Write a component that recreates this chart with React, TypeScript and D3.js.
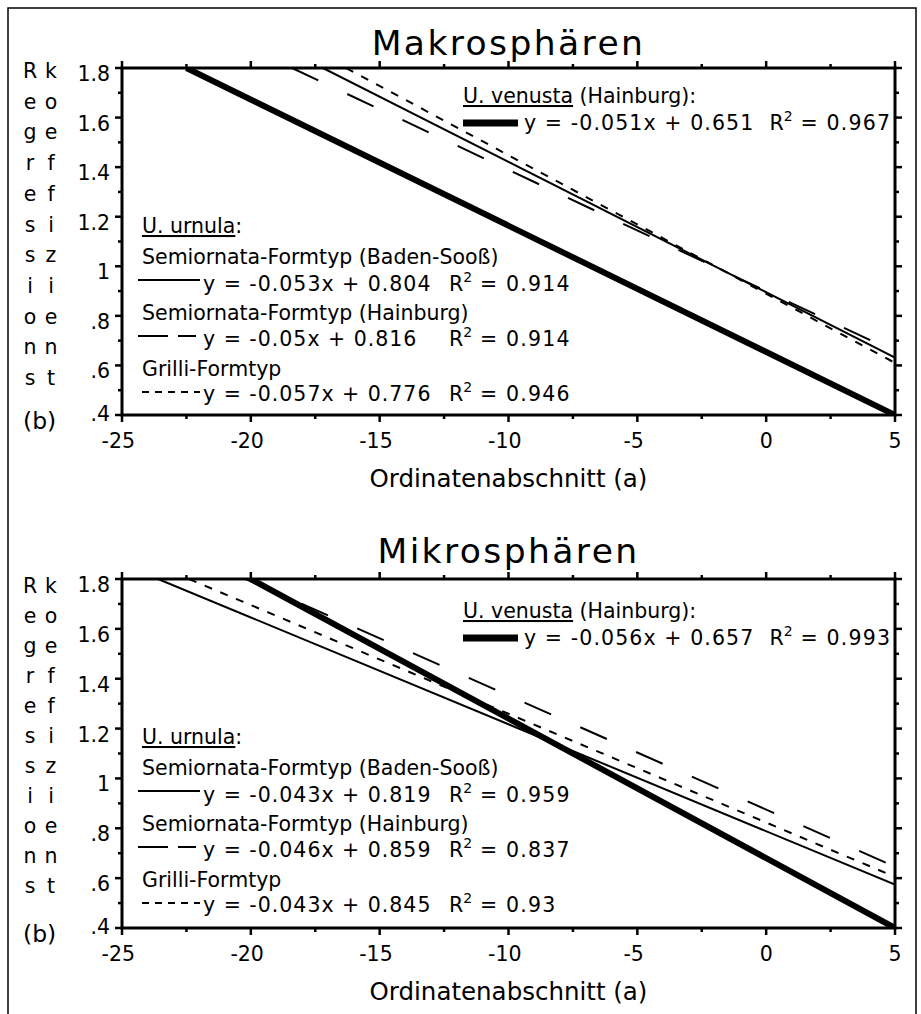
import React from "react";
import * as d3 from "d3";

// ---------- data ----------
const xDomain = [-25, 5];
const yDomain = [0.4, 1.8];
const xTickValues = [-25, -22.5, -20, -17.5, -15, -12.5, -10, -7.5, -5, -2.5, 0, 2.5, 5];
const xLabelValues = [-25, -20, -15, -10, -5, 0, 5];
const xTickLabels = ["-25", "-20", "-15", "-10", "-5", "0", "5"];
const yTickValues = [0.4, 0.5, 0.6, 0.7, 0.8, 0.9, 1.0, 1.1, 1.2, 1.3, 1.4, 1.5, 1.6, 1.7, 1.8];
const yLabelValues = [1.8, 1.6, 1.4, 1.2, 1.0, 0.8, 0.6, 0.4];
const yTickLabels = ["1.8", "1.6", "1.4", "1.2", "1", ".8", ".6", ".4"];

const panelTitles = ["Makrosphären", "Mikrosphären"];
const xAxisTitle = "Ordinatenabschnitt (a)";
const yAxisWord1 = "Regressions";
const yAxisWord2 = "koeffizient";
const yAxisSuffix = "(b)";

const venustaHeading = "U. venusta";
const venustaSuffix = " (Hainburg):";
const urnulaHeading = "U. urnula";
const urnulaNames = ["Semiornata-Formtyp (Baden-Sooß)", "Semiornata-Formtyp (Hainburg)", "Grilli-Formtyp"];

// regression lines as drawn (end points): [a, b]
const makroVenusta = [[-22.5, 1.8], [5, 0.4]];
const makroBadenSooss = [[-17.2, 1.8], [5, 0.632]];
const makroHainburg = [[-18.4, 1.8], [5, 0.655]];
const makroGrilli = [[-16.3, 1.8], [5, 0.61]];

const mikroVenusta = [[-20.0, 1.8], [5, 0.4]];
const mikroBadenSooss = [[-23.6, 1.8], [5, 0.574]];
const mikroHainburg = [[-20.2, 1.8], [5, 0.646]];
const mikroGrilli = [[-22.4, 1.8], [5, 0.605]];

const makroEquations = ["y = -0.051x + 0.651", "y = -0.053x + 0.804", "y = -0.05x + 0.816", "y = -0.057x + 0.776"];
const makroR2 = ["0.967", "0.914", "0.914", "0.946"];
const mikroEquations = ["y = -0.056x + 0.657", "y = -0.043x + 0.819", "y = -0.046x + 0.859", "y = -0.043x + 0.845"];
const mikroR2 = ["0.993", "0.959", "0.837", "0.93"];

// ---------- styles / layout ----------
const FONT = "'DejaVu Sans', Verdana, sans-serif";
const FS = 20.5;
const plotLeft = 122;
const plotRight = 895;

const seriesStyles = [
  { width: 6, dash: undefined as string | undefined },
  { width: 2, dash: undefined as string | undefined },
  { width: 2, dash: "29,32" },
  { width: 2, dash: "8,9" },
];
const sampleStyles = [
  { x1: 463, x2: 518, width: 7, dash: undefined as string | undefined },
  { x1: 138, x2: 200, width: 2, dash: undefined as string | undefined },
  { x1: 138, x2: 196, width: 2, dash: "30,10" },
  { x1: 142, x2: 200, width: 2, dash: "7,6" },
];

const panels = [
  {
    title: panelTitles[0],
    top: 68,
    bottom: 415,
    titleY: 55,
    letterY0: 78,
    letterStep: 30.7,
    rightLegendY: 103,
    series: [makroVenusta, makroBadenSooss, makroHainburg, makroGrilli],
    eqs: makroEquations,
    r2: makroR2,
    clip: "clipA",
  },
  {
    title: panelTitles[1],
    top: 579,
    bottom: 928,
    titleY: 563,
    letterY0: 593,
    letterStep: 30.0,
    rightLegendY: 618,
    series: [mikroVenusta, mikroBadenSooss, mikroHainburg, mikroGrilli],
    eqs: mikroEquations,
    r2: mikroR2,
    clip: "clipB",
  },
];

// relative (to plot top) baselines for the left legend rows
const leftRows = [165, 196, 223, 252, 278, 308, 333];
const leftSampleRows = [212, 268, 324];

function R2({ value }: { value: string }) {
  return (
    <>
      <tspan>R</tspan>
      <tspan dy={-9} fontSize={14}>2</tspan>
      <tspan dy={9} letterSpacing={1.2}>{" = " + value}</tspan>
    </>
  );
}

function Panel({ cfg }: { cfg: (typeof panels)[number] }) {
  const x = d3.scaleLinear().domain(xDomain).range([plotLeft, plotRight]);
  const y = d3.scaleLinear().domain(yDomain).range([cfg.bottom, cfg.top]);
  const line = d3
    .line<number[]>()
    .x((d) => x(d[0]))
    .y((d) => y(d[1]));
  const cx = (plotLeft + plotRight) / 2;
  const digitW = 0.636 * FS;
  const order = [1, 2, 3, 0];

  return (
    <g fontFamily={FONT} fill="#000">
      <defs>
        <clipPath id={cfg.clip}>
          <rect x={plotLeft} y={cfg.top} width={plotRight - plotLeft} height={cfg.bottom - cfg.top} />
        </clipPath>
      </defs>

      {/* title */}
      <text x={cx} y={cfg.titleY} fontSize={34.5} letterSpacing={2.4} textAnchor="middle">
        {cfg.title}
      </text>

      {/* regression lines */}
      <g clipPath={`url(#${cfg.clip})`}>
        {order.map((i) => (
          <path
            key={i}
            d={line(cfg.series[i] as number[][]) || ""}
            fill="none"
            stroke="#000"
            strokeWidth={seriesStyles[i].width}
            strokeDasharray={seriesStyles[i].dash}
          />
        ))}
      </g>

      {/* frame */}
      <rect
        x={plotLeft}
        y={cfg.top}
        width={plotRight - plotLeft}
        height={cfg.bottom - cfg.top}
        fill="none"
        stroke="#000"
        strokeWidth={3}
      />

      {/* x ticks top & bottom */}
      {xTickValues.map((v) => {
        const major = Math.abs(v % 5) < 1e-9;
        const len = major ? 7 : 4;
        return (
          <g key={"x" + v} stroke="#000" strokeWidth={2.5}>
            <line x1={x(v)} x2={x(v)} y1={cfg.bottom} y2={cfg.bottom + len} />
            <line x1={x(v)} x2={x(v)} y1={cfg.top} y2={cfg.top - len} />
          </g>
        );
      })}
      {/* y ticks left & right */}
      {yTickValues.map((v, i) => {
        const major = i % 2 === 0;
        const len = major ? 7 : 4;
        return (
          <g key={"y" + v} stroke="#000" strokeWidth={2.5}>
            <line x1={plotLeft} x2={plotLeft - len} y1={y(v)} y2={y(v)} />
            <line x1={plotRight} x2={plotRight + len} y1={y(v)} y2={y(v)} />
          </g>
        );
      })}

      {/* x tick labels */}
      {xLabelValues.map((v, i) => {
        const s = xTickLabels[i];
        const nd = s.replace("-", "").length;
        return (
          <text key={"xl" + v} x={x(v) + (nd * digitW) / 2} y={cfg.bottom + 33} fontSize={FS} textAnchor="end">
            {s}
          </text>
        );
      })}
      {/* y tick labels */}
      {yLabelValues.map((v, i) => (
        <text
          key={"yl" + v}
          x={110}
          y={Math.min(y(v) + 13, cfg.bottom + 6)}
          fontSize={FS}
          textAnchor="end"
        >
          {yTickLabels[i]}
        </text>
      ))}

      {/* x axis title */}
      <text x={cx} y={cfg.bottom + 72} fontSize={24.5} textAnchor="middle">
        {xAxisTitle}
      </text>

      {/* y axis title, stacked letters in two columns */}
      {yAxisWord1.split("").map((c, i) => (
        <text key={"w1" + i} x={30} y={cfg.letterY0 + i * cfg.letterStep} fontSize={FS} textAnchor="middle">
          {c}
        </text>
      ))}
      {yAxisWord2.split("").map((c, i) => (
        <text key={"w2" + i} x={51} y={cfg.letterY0 + i * cfg.letterStep} fontSize={FS} textAnchor="middle">
          {c}
        </text>
      ))}
      <text x={23} y={cfg.bottom + 14} fontSize={23.5}>
        {yAxisSuffix}
      </text>

      {/* right legend: U. venusta */}
      <text x={463} y={cfg.rightLegendY} fontSize={FS}>
        <tspan textDecoration="underline">{venustaHeading}</tspan>
        <tspan>{venustaSuffix}</tspan>
      </text>
      <line
        x1={sampleStyles[0].x1}
        x2={sampleStyles[0].x2}
        y1={cfg.rightLegendY + 20}
        y2={cfg.rightLegendY + 20}
        stroke="#000"
        strokeWidth={sampleStyles[0].width}
      />
      <text x={524} y={cfg.rightLegendY + 27} fontSize={FS}>
        <tspan letterSpacing={1.1}>{cfg.eqs[0] + "\u00a0\u00a0"}</tspan>
        <R2 value={cfg.r2[0]} />
      </text>

      {/* left legend: U. urnula */}
      <text x={142} y={cfg.top + leftRows[0]} fontSize={FS}>
        <tspan textDecoration="underline">{urnulaHeading}</tspan>
        <tspan>:</tspan>
      </text>
      {[1, 2, 3].map((k) => {
        const st = sampleStyles[k];
        const sy = cfg.top + leftSampleRows[k - 1];
        const nameY = cfg.top + leftRows[2 * k - 1];
        const eqY = cfg.top + leftRows[2 * k];
        return (
          <g key={"leg" + k}>
            <text x={142} y={nameY} fontSize={FS}>
              {urnulaNames[k - 1]}
            </text>
            <line x1={st.x1} x2={st.x2} y1={sy} y2={sy} stroke="#000" strokeWidth={st.width} strokeDasharray={st.dash} />
            <text x={203} y={eqY} fontSize={FS} letterSpacing={1}>
              {cfg.eqs[k]}
            </text>
            <text x={449} y={eqY} fontSize={FS}>
              <R2 value={cfg.r2[k]} />
            </text>
          </g>
        );
      })}
    </g>
  );
}

export default function App() {
  return (
    <svg
      width={921}
      height={1014}
      viewBox="0 0 921 1014"
      style={{ position: "absolute", left: 0, top: 0, background: "#fff" }}
    >
      <rect x={0} y={0} width={921} height={1014} fill="#fff" />
      <rect x={8} y={8} width={908} height={1030} fill="none" stroke="#000" strokeWidth={1.5} />
      {panels.map((p) => (
        <Panel key={p.title} cfg={p} />
      ))}
    </svg>
  );
}
